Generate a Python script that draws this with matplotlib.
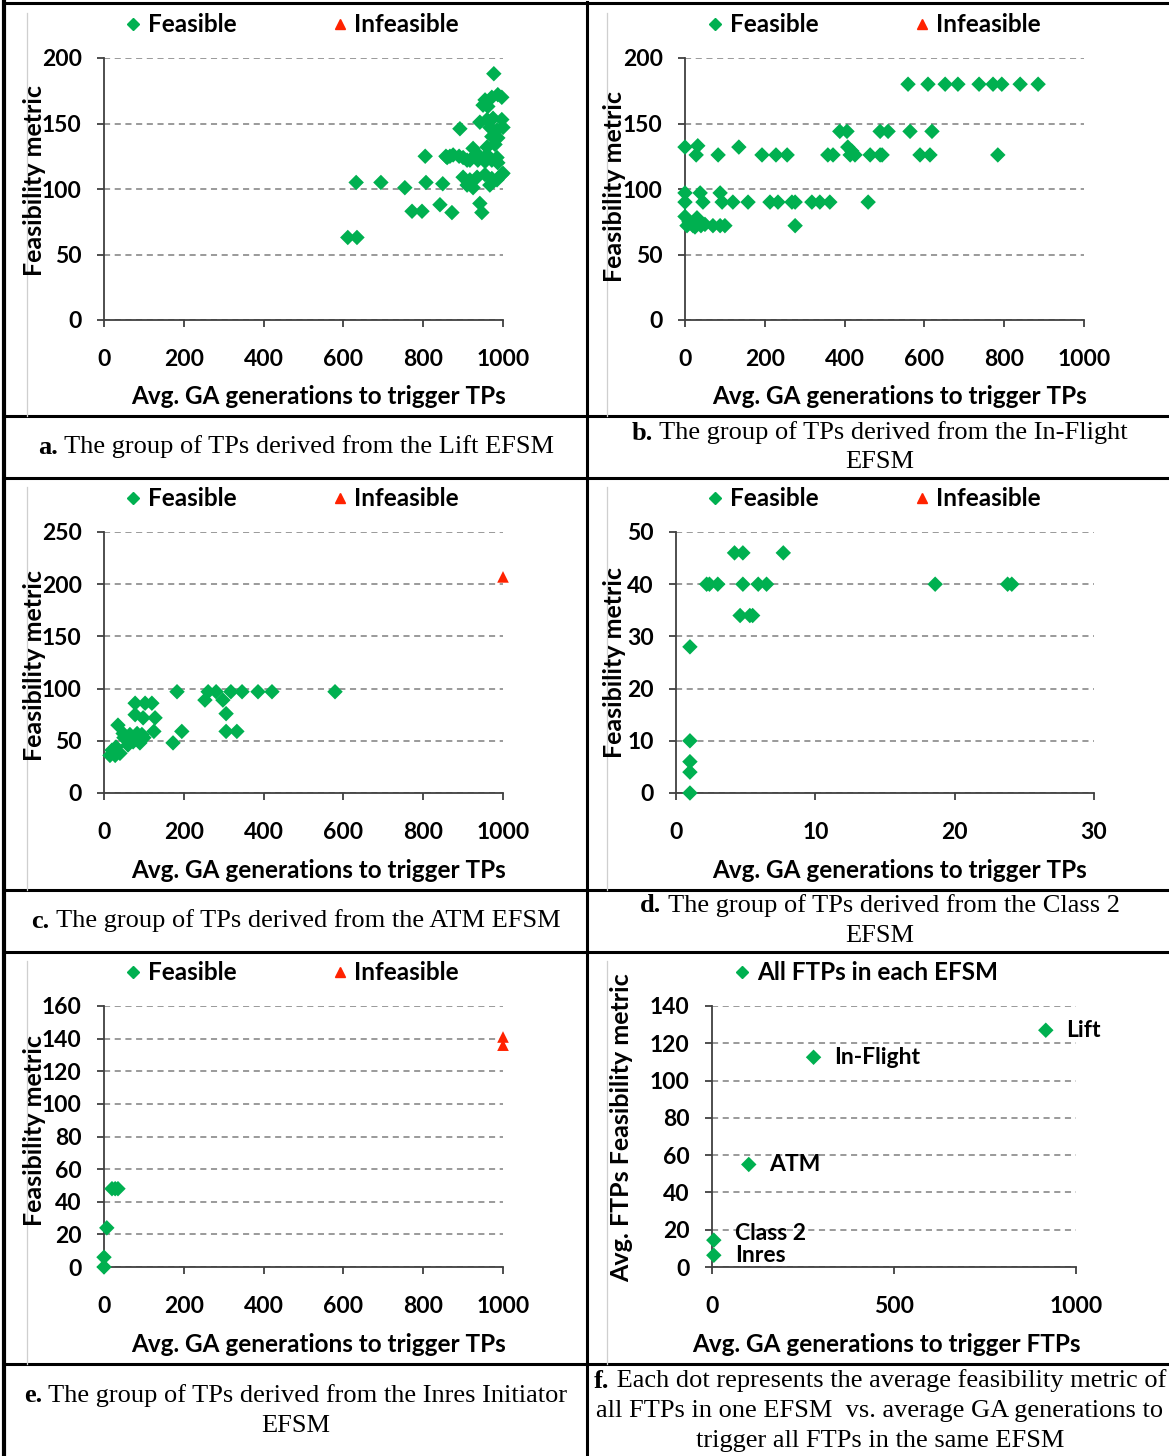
import matplotlib.pyplot as plt
from matplotlib.lines import Line2D

W, H = 1169, 1456
GREEN = "#00B050"
RED = "#FF2200"

# ---- data ----
# a. Lift EFSM (feasible only)
lift_x = [611, 634, 632, 694, 754, 772, 797, 805, 807, 842, 849, 872, 857, 867,
          860, 875, 890, 892, 900, 910, 917, 900, 917, 935, 955, 972, 997, 910,
          925, 967, 985, 937, 955, 972, 987, 935, 960, 985, 925, 960, 980, 967,
          985, 1000, 972, 987, 942, 960, 975, 997, 950, 962, 955, 972, 987, 997,
          977, 942, 947, 1000]
lift_y = [63, 63, 105, 105, 101, 83, 83, 125, 105, 88, 104, 82, 125, 125,
          124, 126, 125, 146, 124, 122, 122, 109, 107, 109, 111, 108, 111, 103,
          101, 103, 107, 122, 121, 122, 120, 127, 126, 124, 131, 132, 134, 147,
          145, 147, 140, 139, 151, 153, 154, 153, 164, 163, 168, 170, 172, 170,
          188, 89, 82, 112]

# b. In-Flight EFSM
inflight_x = [559, 609, 652, 684, 737, 772, 794, 840, 885,
              388, 406, 489, 509, 564, 619,
              0, 32, 135, 408, 418,
              28, 83, 193, 228, 256, 358, 371, 414, 426, 464, 489, 494, 589, 614, 784,
              0, 38, 88,
              0, 45, 93, 120, 158, 213, 233, 268, 276, 318, 338, 363, 459,
              0, 10, 20, 30, 25, 40, 5, 50, 70, 88, 100, 276]
inflight_y = [180, 180, 180, 180, 180, 180, 180, 180, 180,
              144, 144, 144, 144, 144, 144,
              132, 133, 132, 132, 129,
              126, 126, 126, 126, 126, 126, 126, 126, 126, 126, 126, 126, 126, 126, 126,
              97, 97, 97,
              90, 90, 90, 90, 90, 90, 90, 90, 90, 90, 90, 90, 90,
              79, 75, 72, 78, 71, 72, 72, 73, 72, 72, 72, 72]

# c. ATM EFSM
atm_x = [15, 28, 40, 20, 35, 48, 65, 83, 95, 58, 73, 90, 78, 103, 120, 78, 98,
         128, 125, 173, 183, 195, 253, 261, 281, 298, 306, 306, 333, 318, 346,
         386, 421, 579, 30, 50, 100, 60]
atm_y = [36, 36, 38, 41, 65, 57, 56, 57, 56, 51, 49, 48, 86, 86, 86, 75, 72,
         72, 59, 48, 97, 59, 89, 97, 97, 89, 76, 59, 59, 97, 97,
         97, 97, 97, 44, 53, 53, 46]
atm_inf_x = [1000]
atm_inf_y = [207]

# d. Class 2 EFSM
class2_x = [1, 1, 1, 1, 1, 2.2, 2.4, 3.0, 4.8, 5.9, 6.5, 4.2, 4.8, 7.7,
            4.6, 5.3, 5.5, 18.6, 23.8, 24.1]
class2_y = [0, 4, 6, 10, 28, 40, 40, 40, 40, 40, 40, 46, 46, 46,
            34, 34, 34, 40, 40, 40]

# e. Inres Initiator EFSM
inres_x = [0, 0, 7, 20, 28, 35]
inres_y = [0, 6, 24, 48, 48, 48]
inres_inf_x = [1000, 1000]
inres_inf_y = [141, 136]

# f. averages per EFSM
efsm_names = ["Lift", "In-Flight", "ATM", "Class 2", "Inres"]
efsm_gen = [917, 279, 101, 5, 5]
efsm_feas = [127, 112.5, 55, 14.4, 6.3]

plt.rcParams["font.family"] = ["Lato", "DejaVu Sans"]
plt.rcParams["font.weight"] = "bold"

fig = plt.figure(figsize=(W / 100, H / 100), dpi=100)


def box(l, t, r, b):
    return [l / W, 1 - b / H, (r - l) / W, (b - t) / H]


def make_axes(l, t, r, b, xlim, ylim, xticks, yticks):
    ax = fig.add_axes(box(l, t, r, b))
    ax.patch.set_visible(False)
    ax.set_xlim(xlim)
    ax.set_ylim(ylim)
    ax.set_xticks(xticks)
    ax.set_yticks(yticks)
    for s in ["top", "right"]:
        ax.spines[s].set_visible(False)
    for s in ["left", "bottom"]:
        ax.spines[s].set_color("#404040")
        ax.spines[s].set_linewidth(1.3)
    ax.yaxis.grid(True, linestyle=(0, (4, 3)), color="#7f7f7f", lw=1.1)
    ax.set_axisbelow(True)
    ax.tick_params(axis="x", direction="out", length=5, width=1.3, color="#404040",
                   pad=16, labelsize=16.5)
    ax.tick_params(axis="y", direction="out", length=5, width=1.3, color="#404040",
                   pad=11, labelsize=16.5)
    return ax


def feasible(ax, x, y):
    ax.scatter(x, y, marker="D", s=62, color=GREEN, edgecolors="none", clip_on=False, zorder=3)


def infeasible(ax, x, y):
    ax.scatter(x, y, marker="^", s=70, color=RED, edgecolors="none", clip_on=False, zorder=3)


def legend(ax, cx, cy, with_inf=True, label="Feasible"):
    hs = [Line2D([], [], marker="D", ls="", color=GREEN, ms=6.5, label=label)]
    if with_inf:
        hs.append(Line2D([], [], marker="^", ls="", color=RED, ms=7.5, label="Infeasible"))
    ax.legend(handles=hs, loc="center", bbox_to_anchor=(cx / W, 1 - cy / H),
              bbox_transform=fig.transFigure, ncol=len(hs), frameon=False,
              fontsize=17.5, handlelength=0.7, handletextpad=0.25, columnspacing=3.9,
              borderpad=0, borderaxespad=0)


def labels(xc, xy, yc, yy, xt="Avg. GA generations to trigger TPs",
           yt="Feasibility metric"):
    fig.text(xc / W, 1 - xy / H, xt, ha="center", va="center", fontsize=17.5)
    fig.text(yc / W, 1 - yy / H, yt, ha="center", va="center", rotation=90, fontsize=18)


gen_ticks = [0, 200, 400, 600, 800, 1000]

# a
ax = make_axes(104, 58, 503, 320, (0, 1000), (0, 200), gen_ticks, range(0, 201, 50))
feasible(ax, lift_x, lift_y)
legend(ax, 292, 25)
labels(319, 397, 35, 180)

# b
ax = make_axes(685, 58, 1084, 320, (0, 1000), (0, 200), gen_ticks, range(0, 201, 50))
feasible(ax, inflight_x, inflight_y)
legend(ax, 874, 25)
labels(900, 397, 615, 186)

# c
ax = make_axes(104, 532, 503, 793, (0, 1000), (0, 250), gen_ticks, range(0, 251, 50))
feasible(ax, atm_x, atm_y)
infeasible(ax, atm_inf_x, atm_inf_y)
legend(ax, 292, 499)
labels(319, 870, 35, 666)

# d
ax = make_axes(676, 532, 1094, 793, (0, 30), (0, 50), [0, 10, 20, 30], range(0, 51, 10))
feasible(ax, class2_x, class2_y)
legend(ax, 874, 499)
labels(900, 870, 615, 663)

# e
ax = make_axes(104, 1006, 503, 1267, (0, 1000), (0, 160), gen_ticks, range(0, 161, 20))
feasible(ax, inres_x, inres_y)
infeasible(ax, inres_inf_x, inres_inf_y)
legend(ax, 292, 973)
labels(319, 1344, 35, 1130)

# f
ax = make_axes(712, 1006, 1076, 1267, (0, 1000), (0, 140), [0, 500, 1000], range(0, 141, 20))
feasible(ax, efsm_gen, efsm_feas)
for name, gx, fy in zip(efsm_names, efsm_gen, efsm_feas):
    dy = 5 if name == "Class 2" else 0
    ax.annotate(name, (gx, fy), xytext=(15, dy), textcoords="offset points",
                va="center", ha="left", fontsize=16.5)
legend(ax, 866, 973, with_inf=False, label="All FTPs in each EFSM")
labels(886, 1344, 622, 1128, xt="Avg. GA generations to trigger FTPs",
       yt="Avg. FTPs Feasibility metric")

# ---- table frame ----
def hline(y, x0=4, x1=1169, lw=2.2):
    fig.add_artist(Line2D([x0 / W, x1 / W], [1 - y / H, 1 - y / H], color="black", lw=lw))


def vline(x, y0, y1, lw=2.2, color="black"):
    fig.add_artist(Line2D([x / W, x / W], [1 - y0 / H, 1 - y1 / H], color=color, lw=lw))


for y in [3, 416, 478, 890, 952, 1364]:
    hline(y)
vline(4, 2, 1456, lw=3)
vline(587, 2, 1456)
for x in [27, 607]:
    for t, b in [(13, 416), (487, 890), (961, 1364)]:
        vline(x, t, b, lw=0.9, color="#cfcfcf")

# ---- captions ----
renderer = fig.canvas.get_renderer()


def caption(cx, ys, tag, lines, size=19):
    for i, (y, line) in enumerate(zip(ys, lines)):
        if i == 0:
            t1 = fig.text(0, 1 - y / H, tag, family="Liberation Serif", weight="bold",
                          fontsize=size, va="center", ha="left")
            t2 = fig.text(0, 1 - y / H, " " + line, family="Liberation Serif",
                          weight="normal", fontsize=size, va="center", ha="left")
            w1 = t1.get_window_extent(renderer).width
            w2 = t2.get_window_extent(renderer).width
            x0 = cx - (w1 + w2) / 2
            t1.set_x(x0 / W)
            t2.set_x((x0 + w1) / W)
        else:
            fig.text(cx / W, 1 - y / H, line, family="Liberation Serif", weight="normal",
                     fontsize=size, va="center", ha="center")


caption(296, [447], "a.", ["The group of TPs derived from the Lift EFSM"])
caption(880, [433, 462], "b.", ["The group of TPs derived from the In-Flight", "EFSM"])
caption(296, [921], "c.", ["The group of TPs derived from the ATM EFSM"])
caption(880, [906, 936], "d.", ["The group of TPs derived from the Class 2", "EFSM"])
caption(296, [1396, 1426], "e.", ["The group of TPs derived from the Inres Initiator", "EFSM"])
caption(880, [1381, 1411, 1441], "f.",
        ["Each dot represents the average feasibility metric of",
         "all FTPs in one EFSM  vs. average GA generations to",
         "trigger all FTPs in the same EFSM"])

fig.savefig("out.png", dpi=100)
